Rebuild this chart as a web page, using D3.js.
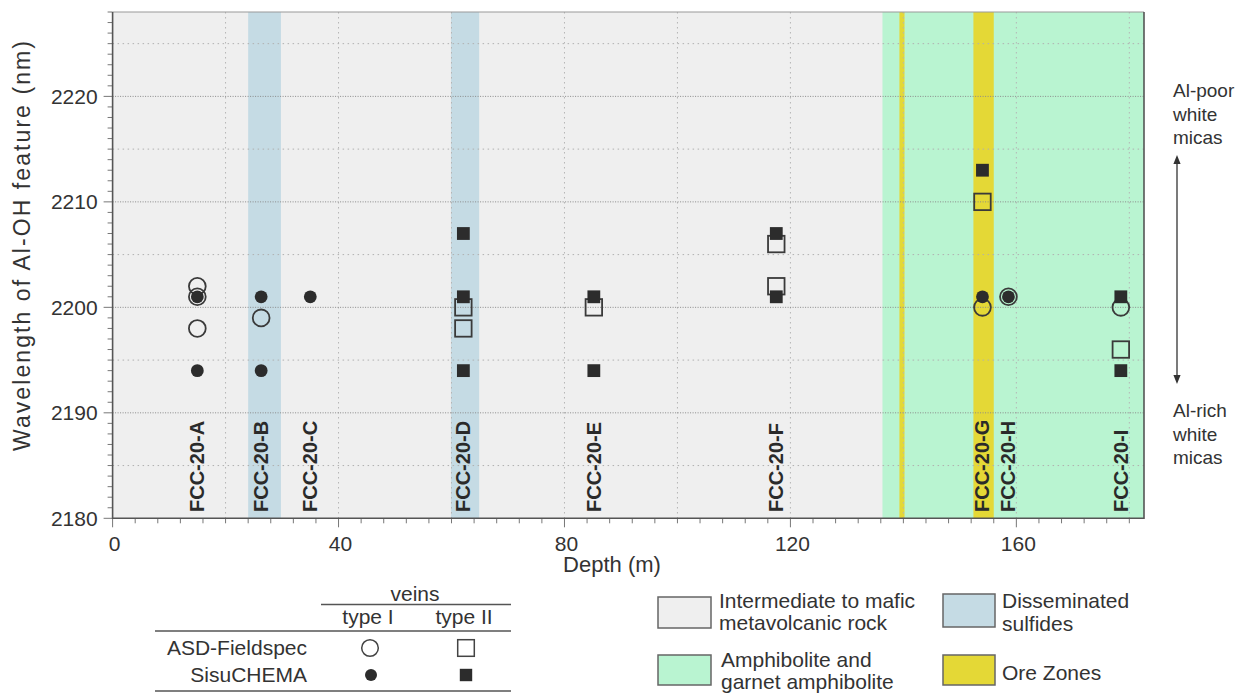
<!DOCTYPE html>
<html>
<head>
<meta charset="utf-8">
<script src="https://cdn.jsdelivr.net/npm/d3@7"></script>
<style>
  body { margin: 0; background: #fff; }
  svg text { font-family: "Liberation Sans", Arial, Helvetica, sans-serif; fill: #333; }
</style>
</head>
<body>
<svg id="chart" width="1237" height="693"></svg>
<script>
// ---- data -------------------------------------------------------------
const samples     = ["FCC-20-A", "FCC-20-B", "FCC-20-C", "FCC-20-D", "FCC-20-E",
                     "FCC-20-F", "FCC-20-G", "FCC-20-H", "FCC-20-I"];
const sampleDepth = [15.0, 26.3, 35.0, 62.1, 85.2, 117.5, 154.0, 158.6, 178.5];

// Al-OH feature wavelength (nm) per sample
const asdTypeI   = [["FCC-20-A", 2202], ["FCC-20-A", 2201], ["FCC-20-A", 2198],
                    ["FCC-20-B", 2199], ["FCC-20-G", 2200], ["FCC-20-H", 2201],
                    ["FCC-20-I", 2200]];
const asdTypeII  = [["FCC-20-D", 2200], ["FCC-20-D", 2198], ["FCC-20-E", 2200],
                    ["FCC-20-F", 2206], ["FCC-20-F", 2202], ["FCC-20-G", 2210],
                    ["FCC-20-I", 2196]];
const sisuTypeI  = [["FCC-20-A", 2201], ["FCC-20-A", 2194], ["FCC-20-B", 2201],
                    ["FCC-20-B", 2194], ["FCC-20-C", 2201], ["FCC-20-G", 2201],
                    ["FCC-20-H", 2201]];
const sisuTypeII = [["FCC-20-D", 2207], ["FCC-20-D", 2201], ["FCC-20-D", 2194],
                    ["FCC-20-E", 2201], ["FCC-20-E", 2194], ["FCC-20-F", 2207],
                    ["FCC-20-F", 2201], ["FCC-20-G", 2213], ["FCC-20-I", 2201],
                    ["FCC-20-I", 2194]];

// lithology intervals along the drill core (m)
const zoneKind = ["amphibolite", "sulfides", "sulfides", "ore", "ore"];
const zoneFrom = [136.3, 24.0, 59.9, 139.3, 152.4];
const zoneTo   = [182.6, 29.8, 64.9, 140.2, 156.0];

const depthDomain = [0, 182.6];
const waveDomain  = [2180, 2228];
const depthTicks  = [0, 40, 80, 120, 160];
const waveTicks   = [2180, 2190, 2200, 2210, 2220];

const lithoKeys   = ["metavolcanic", "sulfides", "amphibolite", "ore"];
const lithoLabels = [["Intermediate to mafic", "metavolcanic rock"],
                     ["Disseminated", "sulfides"],
                     ["Amphibolite and", "garnet amphibolite"],
                     ["Ore Zones"]];

// ---- styling ----------------------------------------------------------
const lithoFill = {
  metavolcanic: "#efefef",
  sulfides:     "#c5dbe4",
  amphibolite:  "#b9f4d1",
  ore:          "#e4d836"
};
const ink = "#2c2c2c";
const axisInk = "#555";

const svg = d3.select("#chart");
const plot = { left: 112.6, right: 1144, top: 12, bottom: 518.3 };

const x = d3.scaleLinear().domain(depthDomain).range([plot.left, plot.right]);
const y = d3.scaleLinear().domain(waveDomain).range([plot.bottom, plot.top]);
const depthOf = Object.fromEntries(samples.map((s, i) => [s, sampleDepth[i]]));

// background and lithology bands
svg.append("rect")
  .attr("x", plot.left).attr("y", plot.top)
  .attr("width", plot.right - plot.left).attr("height", plot.bottom - plot.top)
  .attr("fill", lithoFill.metavolcanic);

svg.append("g").selectAll("rect")
  .data(zoneKind.map((k, i) => ({ k, a: zoneFrom[i], b: zoneTo[i] })))
  .join("rect")
  .attr("x", d => x(d.a)).attr("width", d => x(d.b) - x(d.a))
  .attr("y", plot.top).attr("height", plot.bottom - plot.top)
  .attr("fill", d => lithoFill[d.k]);

// grid
const grid = svg.append("g");
grid.selectAll(".vg").data(d3.range(20, depthDomain[1], 20)).join("line")
  .attr("x1", d => x(d)).attr("x2", d => x(d))
  .attr("y1", plot.top).attr("y2", plot.bottom)
  .attr("stroke", "#b5b5b5").attr("stroke-width", 1).attr("stroke-dasharray", "1.5,3.5");
grid.selectAll(".hmin").data(d3.range(2185, 2228, 10)).join("line")
  .attr("x1", plot.left).attr("x2", plot.right)
  .attr("y1", d => y(d)).attr("y2", d => y(d))
  .attr("stroke", "#b0b0b0").attr("stroke-width", 1).attr("stroke-dasharray", "1.5,3.5");
grid.selectAll(".hmaj").data(waveTicks.slice(1)).join("line")
  .attr("x1", plot.left).attr("x2", plot.right)
  .attr("y1", d => y(d)).attr("y2", d => y(d))
  .attr("stroke", "#8a8a8a").attr("stroke-width", 1).attr("stroke-dasharray", "1,1.5");

// sample labels
svg.append("g").selectAll("text").data(samples).join("text")
  .attr("transform", (d, i) => `translate(${x(sampleDepth[i]) + 7},512) rotate(-90)`)
  .attr("font-size", 20).attr("font-weight", "bold")
  .style("fill", "#2a2a2a")
  .text(d => d);

// markers: open first, filled on top
const markers = svg.append("g");
function circles(data, r, filled) {
  markers.append("g").selectAll("circle").data(data).join("circle")
    .attr("cx", d => x(depthOf[d[0]])).attr("cy", d => y(d[1])).attr("r", r)
    .attr("fill", filled ? ink : "none")
    .attr("stroke", filled ? "none" : "#3a3a3a").attr("stroke-width", 1.8);
}
function squares(data, s, filled) {
  markers.append("g").selectAll("rect").data(data).join("rect")
    .attr("x", d => x(depthOf[d[0]]) - s / 2).attr("y", d => y(d[1]) - s / 2)
    .attr("width", s).attr("height", s)
    .attr("fill", filled ? ink : "none")
    .attr("stroke", filled ? "none" : "#3a3a3a").attr("stroke-width", 1.8);
}
circles(asdTypeI, 8.4, false);
squares(asdTypeII, 16.5, false);
circles(sisuTypeI, 6.4, true);
squares(sisuTypeII, 12.8, true);

// axes
const yAxis = svg.append("g").attr("transform", `translate(${plot.left},0)`);
yAxis.append("g").selectAll("line").data(d3.range(2180, 2229, 1)).join("line")
  .attr("x1", d => (d % 10 === 0 ? -9 : -5)).attr("x2", 0)
  .attr("y1", d => y(d)).attr("y2", d => y(d))
  .attr("stroke", "#777").attr("stroke-width", 1);
yAxis.append("g").selectAll("text").data(waveTicks).join("text")
  .attr("x", -15).attr("y", d => y(d)).attr("dy", "0.36em")
  .attr("text-anchor", "end").attr("font-size", 21)
  .text(d => d);

const xAxis = svg.append("g").attr("transform", `translate(0,${plot.bottom})`);
xAxis.append("g").selectAll("line").data(d3.range(0, 181, 4)).join("line")
  .attr("x1", d => x(d)).attr("x2", d => x(d))
  .attr("y1", 0).attr("y2", d => (d % 40 === 0 ? 9 : 5))
  .attr("stroke", "#777").attr("stroke-width", 1);
xAxis.append("g").selectAll("text").data(depthTicks).join("text")
  .attr("x", d => x(d) + 2).attr("y", 33)
  .attr("text-anchor", "middle").attr("font-size", 21)
  .text(d => d);

// frame
svg.append("line").attr("x1", plot.left).attr("x2", plot.right)
  .attr("y1", plot.top).attr("y2", plot.top).attr("stroke", "#999").attr("stroke-width", 1);
svg.append("path")
  .attr("d", `M${plot.left},${plot.top}V${plot.bottom}H${plot.right}V${plot.top}`)
  .attr("fill", "none").attr("stroke", axisInk).attr("stroke-width", 1.6);

// axis titles
svg.append("text")
  .attr("transform", "translate(30,246) rotate(-90)")
  .attr("text-anchor", "middle").attr("font-size", 23)
  .attr("textLength", 410).attr("lengthAdjust", "spacing")
  .text("Wavelength of Al-OH feature (nm)");
svg.append("text")
  .attr("x", 612).attr("y", 572).attr("text-anchor", "middle").attr("font-size", 22)
  .text("Depth (m)");

// Al-poor / Al-rich annotation with a double-headed arrow
const note = svg.append("g");
["Al-poor", "white", "micas"].forEach((t, i) =>
  note.append("text").attr("x", 1173).attr("y", 97 + i * 23.5).attr("font-size", 19).text(t));
["Al-rich", "white", "micas"].forEach((t, i) =>
  note.append("text").attr("x", 1173).attr("y", 417 + i * 23.5).attr("font-size", 19).text(t));
const ax = 1177, aTop = 155, aBot = 384;
note.append("line").attr("x1", ax).attr("x2", ax).attr("y1", aTop + 6).attr("y2", aBot - 6)
  .attr("stroke", "#333").attr("stroke-width", 1.3);
note.append("path")
  .attr("d", `M${ax},${aTop}L${ax - 3.6},${aTop + 9}L${ax + 3.6},${aTop + 9}Z` +
             `M${ax},${aBot}L${ax - 3.6},${aBot - 9}L${ax + 3.6},${aBot - 9}Z`)
  .attr("fill", "#333");

// ---- symbol legend (table) -------------------------------------------
const tbl = svg.append("g").attr("font-size", 21);
tbl.append("text").attr("x", 415).attr("y", 601).attr("text-anchor", "middle").text("veins");
tbl.append("line").attr("x1", 321).attr("x2", 511).attr("y1", 604.5).attr("y2", 604.5)
  .attr("stroke", axisInk).attr("stroke-width", 1.5);
tbl.append("text").attr("x", 368).attr("y", 624).attr("text-anchor", "middle").text("type I");
tbl.append("text").attr("x", 464).attr("y", 624).attr("text-anchor", "middle").text("type II");
[631, 691].forEach(v =>
  tbl.append("line").attr("x1", 155).attr("x2", 511).attr("y1", v).attr("y2", v)
    .attr("stroke", axisInk).attr("stroke-width", 1.5));
tbl.append("text").attr("x", 307).attr("y", 655).attr("text-anchor", "end").text("ASD-Fieldspec");
tbl.append("text").attr("x", 307).attr("y", 682).attr("text-anchor", "end").text("SisuCHEMA");
tbl.append("circle").attr("cx", 370).attr("cy", 648).attr("r", 8.3)
  .attr("fill", "none").attr("stroke", "#444").attr("stroke-width", 1.5);
tbl.append("rect").attr("x", 466 - 8.3).attr("y", 648 - 8.3).attr("width", 16.6).attr("height", 16.6)
  .attr("fill", "none").attr("stroke", "#444").attr("stroke-width", 1.5);
tbl.append("circle").attr("cx", 371).attr("cy", 675).attr("r", 6).attr("fill", ink);
tbl.append("rect").attr("x", 466 - 6.2).attr("y", 675 - 6.2).attr("width", 12.4).attr("height", 12.4)
  .attr("fill", ink);

// ---- lithology legend ------------------------------------------------
const lg = svg.append("g").attr("font-size", 21);
const boxX = [658, 943, 658, 943];
const boxY = [597, 594, 655, 655];
const boxW = [53, 52, 53, 52];
const boxH = [31, 33, 30, 30];
const txtY = [[608, 630], [608, 631], [667, 689], [680]];
lithoKeys.forEach((k, i) => {
  lg.append("rect").attr("x", boxX[i]).attr("y", boxY[i])
    .attr("width", boxW[i]).attr("height", boxH[i])
    .attr("fill", lithoFill[k]).attr("stroke", "#666").attr("stroke-width", 1.5);
  lithoLabels[i].forEach((t, j) =>
    lg.append("text").attr("x", boxX[i] + boxW[i] + (i % 2 ? 7 : 8) + (i === 2 ? 2 : 0))
      .attr("y", txtY[i][j]).text(t));
});
</script>
</body>
</html>
